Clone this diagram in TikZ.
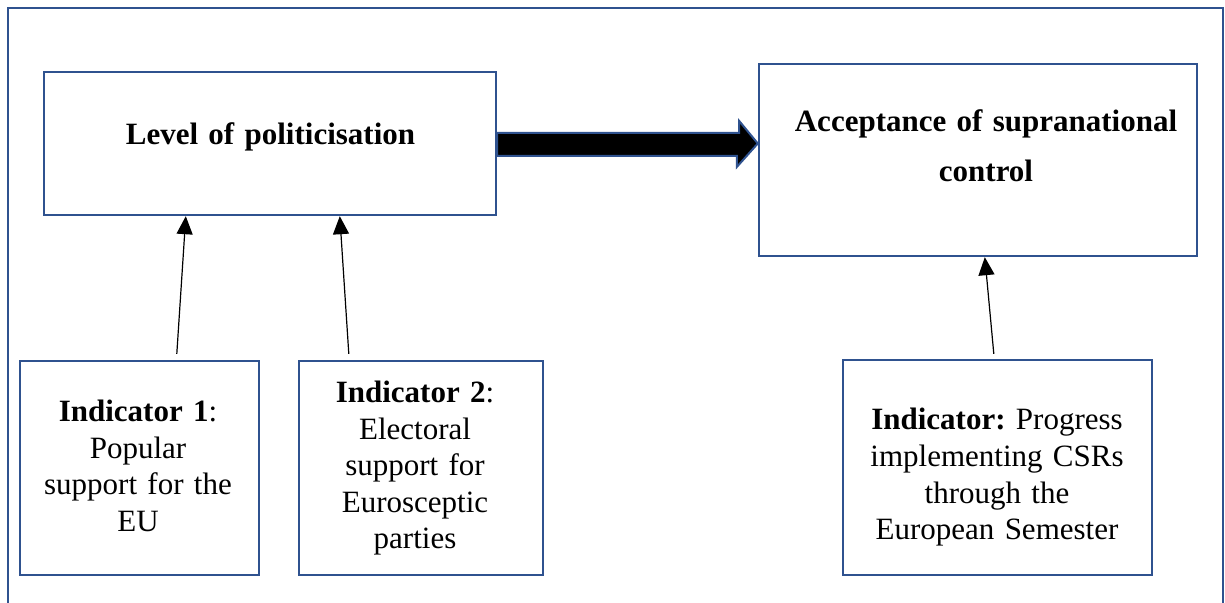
\documentclass[tikz,border=0pt]{standalone}
\usepackage{fontspec}
\setmainfont{Liberation Serif}
\usetikzlibrary{arrows.meta,calc}
\definecolor{frameblue}{RGB}{47,82,143}
\frenchspacing
\begin{document}
\begin{tikzpicture}[x=0.5pt,y=-0.5pt,
  box/.style={draw=frameblue,line width=1.2pt,rectangle,inner sep=0pt},
  txt/.style={inner sep=0pt,align=center,anchor=base,font=\fontsize{15.5pt}{18.25pt}\selectfont},
  conn/.style={line width=0.6pt,-{Triangle[width=8pt,length=9pt]}}]
\useasboundingbox (0,0) rectangle (1225,603);
% outer frame (no bottom edge visible)
\draw[frameblue,line width=1.1pt] (8,640) -- (8,8) -- (1223,8) -- (1223,640);
% boxes
\node[box,minimum width=226pt,minimum height=71.5pt] (lvl) at (270,143.5) {};
\node[box,minimum width=219pt,minimum height=96pt] (acc) at (978,160) {};
\node[box,minimum width=119.5pt,minimum height=107pt] (ind1) at (139.5,468) {};
\node[box,minimum width=122pt,minimum height=107pt] (ind2) at (421,468) {};
\node[box,minimum width=154.5pt,minimum height=107.5pt] (ind3) at (997.5,467.5) {};
% texts
\node[txt,text width=220pt] (lvlt) at (270.5,145) {\textbf{Level of politicisation}};
\node[txt,text width=215pt,font=\fontsize{15.5pt}{25pt}\selectfont] (acct) at (986,132) {\textbf{Acceptance of supranational}\\\textbf{control}};
\node[txt,text width=117pt] (ind1t) at (138,422) {\textbf{Indicator 1}:\\Popular\\support for the\\EU};
\node[txt,text width=120pt] (ind2t) at (415,403) {\textbf{Indicator 2}:\\Electoral\\support for\\Eurosceptic\\parties};
\node[txt,text width=152pt] (ind3t) at (997,430) {\textbf{Indicator:} Progress\\implementing CSRs\\through the\\European Semester};
% big arrow
\draw[frameblue,line width=1pt,fill=black,line join=miter]
  ($(lvl.east)+(0,-10.5)$) -- ++(242,0) -- ++(0,-12) -- (acc.west |- lvl.east) -- ++(-21,23.5) -- ++(0,-11) -- ($(lvl.east)+(0,12.5)$) -- cycle;
% connectors
\coordinate (a1s) at ($(ind1.north west)+(158,-6)$);
\coordinate (a1e) at ($(lvl.south west)+(143,0)$);
\coordinate (a2s) at ($(ind2.north west)+(51,-6)$);
\coordinate (a2e) at ($(lvl.south west)+(297,0)$);
\coordinate (a3s) at ($(ind3.north west)+(152,-5)$);
\coordinate (a3e) at ($(acc.south west)+(227,0)$);
\draw[conn] (a1s) -- (a1e);
\draw[conn] (a2s) -- (a2e);
\draw[conn] (a3s) -- (a3e);
\end{tikzpicture}
\end{document}
